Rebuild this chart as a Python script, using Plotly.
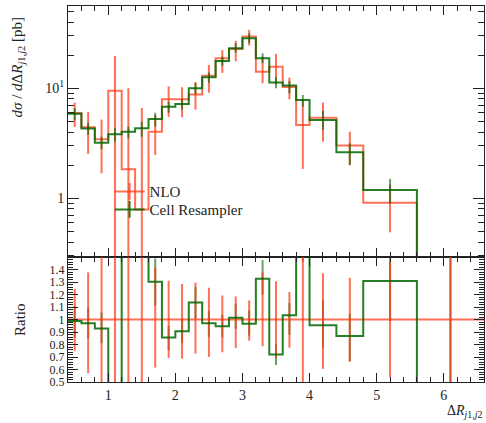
import plotly.graph_objects as go
import numpy as np

# bin edges of Delta R_{j1,j2}
edges = [0.4, 0.6, 0.8, 1.0, 1.2, 1.4, 1.6, 1.8, 2.0, 2.2, 2.4, 2.6, 2.8, 3.0,
         3.2, 3.4, 3.6, 3.8, 4.0, 4.4, 4.8, 5.6, 6.6]

# NLO  (pb per unit)
nlo = [5.95, 4.43, 3.44, 9.5, 1.84, 0.79, 4.03, 7.94, 7.94, 8.8, 13.0, 18.7,
       22.8, 29.5, 14.1, 15.7, 10.25, 4.64, 5.4, 3.02, 0.91, 0.001]
nlo_hi = [7.4, 6.1, 5.2, 19.7, 10.0, 6.6, 5.7, 10.4, 10.2, 11.4, 16.3, 22.3,
          27.0, 34.0, 19.4, 20.5, 12.5, 7.8, 7.4, 4.03, 1.33, 0.1]
nlo_lo = [4.46, 2.53, 1.69, 0.0, 0.0, 0.0, 2.48, 5.5, 5.45, 6.4, 9.1, 13.8,
          17.6, 24.5, 11.1, 10.8, 7.94, 1.85, 3.27, 2.0, 0.49, 0.0]

# Cell Resampler
cell = [5.88, 4.3, 3.19, 3.82, 4.03, 4.33, 5.25, 6.8, 7.2, 10.0, 12.6, 17.7,
        23.1, 28.5, 18.7, 11.3, 10.6, 7.83, 5.15, 2.62, 1.19, 0.0]
cell_hi = [6.6, 4.86, 3.63, 4.38, 4.48, 4.97, 6.0, 7.55, 8.0, 11.1, 13.9, 19.4,
           25.7, 31.6, 20.8, 12.6, 11.6, 8.7, 6.25, 3.16, 1.5, 0.1]
cell_lo = [5.1, 3.76, 2.79, 3.27, 3.51, 3.63, 4.48, 6.0, 6.44, 8.87, 11.2, 16.0,
           21.1, 25.7, 16.9, 10.0, 9.0, 6.8, 4.18, 2.01, 0.90, 0.0]

x_ticks = [1, 2, 3, 4, 5, 6]
ratio_ticks = [0.5, 0.6, 0.7, 0.8, 0.9, 1.0, 1.1, 1.2, 1.3, 1.4]
ratio_ticktext = ["0.5", "0.6", "0.7", "0.8", "0.9", "1", "1.1", "1.2", "1.3", "1.4"]

RED = "rgba(255,55,20,0.72)"
GREEN = "rgba(0,105,0,0.85)"
GREEN_ERR = "rgba(0,100,0,0.6)"
FONT = "Liberation Serif"
FLOOR = 1e-3

e = np.array(edges)
cen = 0.5 * (e[:-1] + e[1:])
n_ = np.array(nlo); nh = np.array(nlo_hi); nl = np.array(nlo_lo)
c_ = np.array(cell); ch = np.array(cell_hi); cl = np.array(cell_lo)

def step(v):
    v = list(v)
    return v + [v[-1]]

def floor(v):
    return np.maximum(np.array(v, dtype=float), FLOOR)

fig = go.Figure()

# ---------- main panel ----------
for vals, hi, lo, col, ecol in [(n_, nh, nl, RED, RED), (c_, ch, cl, GREEN, GREEN_ERR)]:
    pv = floor(vals)
    lo_f = np.where(np.array(lo) > 0, np.array(lo, dtype=float), FLOOR * 0.5)
    fig.add_trace(go.Scatter(x=edges, y=step(pv), mode="lines", line_shape="hv",
                             line=dict(color=col, width=2), showlegend=False,
                             xaxis="x", yaxis="y", hoverinfo="skip"))
    fig.add_trace(go.Scatter(x=cen, y=pv, mode="markers", marker=dict(size=0, opacity=0),
                             error_y=dict(type="data", symmetric=False,
                                          array=floor(hi) - pv, arrayminus=np.maximum(pv - lo_f, 0),
                                          color=ecol, thickness=2, width=0),
                             showlegend=False, xaxis="x", yaxis="y", hoverinfo="skip"))

# ---------- ratio panel ----------
r_n = n_ / n_
r_c = c_ / n_
ratio_sets = [(r_c, (ch - c_) / n_, (c_ - cl) / n_, GREEN, GREEN_ERR),
              (r_n, (nh - n_) / n_, (n_ - nl) / n_, RED, RED)]
for rv, up, dn, col, ecol in ratio_sets:
    fig.add_trace(go.Scatter(x=cen, y=rv, mode="markers", marker=dict(size=0, opacity=0),
                             error_y=dict(type="data", symmetric=False, array=up, arrayminus=dn,
                                          color=ecol, thickness=2, width=0),
                             showlegend=False, xaxis="x2", yaxis="y2", hoverinfo="skip"))
for rv, up, dn, col, ecol in ratio_sets[::-1]:
    fig.add_trace(go.Scatter(x=edges, y=step(rv), mode="lines", line_shape="hv",
                             line=dict(color=col, width=2), showlegend=False,
                             xaxis="x2", yaxis="y2", hoverinfo="skip"))

# ---------- legend entries ----------
for name, col, lg in [("NLO", RED, "legend"), ("Cell Resampler", GREEN, "legend2")]:
    fig.add_trace(go.Scatter(x=[None], y=[None], mode="lines+markers", name=name,
                             line=dict(color=col, width=2), legend=lg,
                             marker=dict(symbol="line-ns", size=12, line=dict(color=col, width=2)),
                             xaxis="x", yaxis="y"))

split = 125 / 376
axcommon = dict(ticks="inside", mirror="allticks", showline=True, linecolor="#222",
                linewidth=1, tickcolor="#222", showgrid=False, zeroline=False)
legcommon = dict(xanchor="left", yanchor="top", bgcolor="rgba(0,0,0,0)",
                 font=dict(family=FONT, size=15), itemwidth=30)

fig.update_layout(
    width=486, height=423,
    margin=dict(l=68, r=2, t=6, b=41),
    paper_bgcolor="white", plot_bgcolor="white",
    font=dict(family=FONT, size=14, color="#222"),
    xaxis=dict(domain=[0, 1], range=[0.4, 6.6], anchor="y", showticklabels=False,
               tickvals=x_ticks, ticklen=9,
               minor=dict(dtick=0.2, tick0=0.4, ticks="inside", ticklen=5, tickcolor="#222"),
               **axcommon),
    yaxis=dict(domain=[split, 1], type="log", range=[-0.534, 1.748], anchor="x",
               tickvals=[1, 10], ticktext=["1", "10<sup>1</sup>"], ticklen=11,
               minor=dict(tickvals=[0.3, 0.4, 0.5, 0.6, 0.7, 0.8, 0.9, 2, 3, 4, 5, 6, 7, 8, 9,
                                    20, 30, 40, 50],
                          ticks="inside", ticklen=6, tickcolor="#222"),
               tickfont=dict(size=14), **axcommon),
    xaxis2=dict(domain=[0, 1], range=[0.4, 6.6], anchor="y2", tickvals=x_ticks, ticklen=9,
                minor=dict(dtick=0.2, tick0=0.4, ticks="inside", ticklen=5, tickcolor="#222"),
                tickfont=dict(size=14), **axcommon),
    yaxis2=dict(domain=[0, split], range=[0.5, 1.5], anchor="x2",
                tickvals=ratio_ticks, ticktext=ratio_ticktext, ticklen=10,
                minor=dict(dtick=0.02, tick0=0.5, ticks="inside", ticklen=5, tickcolor="#222"),
                tickfont=dict(size=12), **axcommon),
    legend=dict(x=0.1, y=0.55, **legcommon),
    legend2=dict(x=0.1, y=0.55 - 18 / 376, **legcommon),
    annotations=[
        dict(text="<i>dσ</i> / <i>d</i>Δ<i>R</i><sub><i>j</i>1,<i>j</i>2</sub> [pb]",
             xref="paper", yref="paper", x=-51 / 416, y=1 - 9 / 376, xanchor="center",
             yanchor="top", textangle=-90, showarrow=False, font=dict(size=15)),
        dict(text="Ratio", xref="paper", yref="paper", x=-48 / 416, y=(382 - 320) / 376,
             xanchor="center", yanchor="middle", textangle=-90, showarrow=False,
             font=dict(size=15)),
        dict(text="Δ<i>R</i><sub><i>j</i>1,<i>j</i>2</sub>", xref="paper", yref="paper",
             x=1, y=-19 / 376, xanchor="right", yanchor="top", showarrow=False,
             font=dict(size=14)),
    ],
)

fig.write_html("out.html")
